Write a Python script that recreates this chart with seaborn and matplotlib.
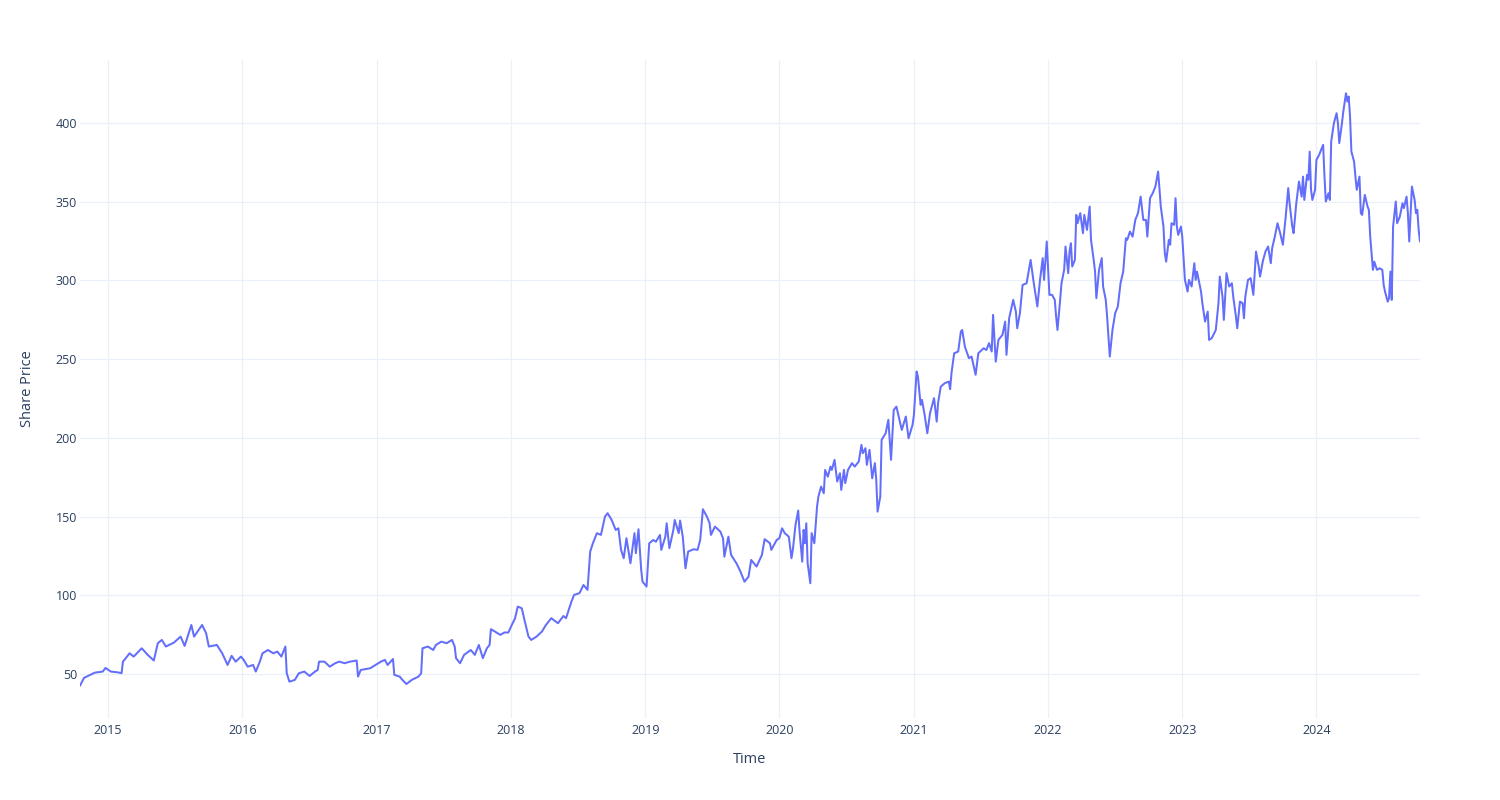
import numpy as np
import pandas as pd
import matplotlib
matplotlib.use("Agg")
import matplotlib.pyplot as plt
import matplotlib.dates as mdates
import seaborn as sns

# ---- data (time as decimal years) ----
time_points = [
    2014.79, 2014.82, 2014.90, 2014.96, 2014.98, 2015.02, 2015.07, 2015.10, 2015.11, 2015.16,
    2015.19, 2015.25, 2015.29, 2015.34, 2015.37, 2015.40, 2015.43, 2015.49, 2015.54, 2015.57,
    2015.60, 2015.62, 2015.64, 2015.70, 2015.73, 2015.75, 2015.81, 2015.85, 2015.89, 2015.92,
    2015.95, 2015.99,
    2016.01, 2016.04, 2016.08, 2016.10, 2016.13, 2016.15, 2016.19, 2016.23, 2016.26, 2016.29,
    2016.32, 2016.33, 2016.35, 2016.39, 2016.42, 2016.46, 2016.50, 2016.54, 2016.56, 2016.57,
    2016.61, 2016.65, 2016.69, 2016.72, 2016.76, 2016.80, 2016.85, 2016.86, 2016.88, 2016.95,
    2017.01,
    2017.03, 2017.06, 2017.08, 2017.12, 2017.13, 2017.17, 2017.19, 2017.22, 2017.26, 2017.31,
    2017.33, 2017.34, 2017.38, 2017.42, 2017.44, 2017.48, 2017.52, 2017.56, 2017.58, 2017.59,
    2017.62, 2017.65, 2017.70, 2017.73, 2017.76, 2017.79, 2017.82, 2017.84, 2017.85, 2017.88,
    2017.92, 2017.95, 2017.98, 2018.00, 2018.03,
    2018.05, 2018.08, 2018.10, 2018.13, 2018.15, 2018.19, 2018.23, 2018.26, 2018.30, 2018.35,
    2018.39, 2018.41, 2018.45, 2018.47, 2018.51, 2018.54, 2018.57, 2018.59, 2018.61, 2018.64,
    2018.67, 2018.70, 2018.72, 2018.75, 2018.78, 2018.80, 2018.82, 2018.84, 2018.86, 2018.89,
    2018.92, 2018.93, 2018.95, 2018.97, 2018.98, 2019.01, 2019.03,
    2019.06, 2019.08, 2019.11, 2019.12, 2019.15, 2019.16, 2019.18, 2019.21, 2019.22, 2019.25,
    2019.26, 2019.28, 2019.30, 2019.32, 2019.36, 2019.39, 2019.41, 2019.43, 2019.46, 2019.48,
    2019.49, 2019.52, 2019.56, 2019.58, 2019.59, 2019.62, 2019.64, 2019.68, 2019.71, 2019.74,
    2019.77, 2019.79, 2019.83, 2019.87, 2019.89, 2019.93, 2019.94, 2019.98, 2020.00, 2020.02,
    2020.04, 2020.07, 2020.09, 2020.10, 2020.12, 2020.14, 2020.15, 2020.17, 2020.18, 2020.19,
    2020.20, 2020.21, 2020.23, 2020.24, 2020.26, 2020.28, 2020.29, 2020.31, 2020.33, 2020.34,
    2020.36, 2020.38, 2020.39, 2020.41, 2020.43, 2020.45, 2020.46, 2020.48, 2020.49, 2020.51,
    2020.54, 2020.56, 2020.59, 2020.61, 2020.62, 2020.64, 2020.65, 2020.67, 2020.69, 2020.71,
    2020.72, 2020.73, 2020.75, 2020.76, 2020.79, 2020.81, 2020.83, 2020.85, 2020.87, 2020.91,
    2020.94, 2020.96,
    2020.99, 2021.00, 2021.02, 2021.03, 2021.05, 2021.06, 2021.08, 2021.10, 2021.12, 2021.15,
    2021.17, 2021.18, 2021.20, 2021.23, 2021.26, 2021.27, 2021.28, 2021.30, 2021.33, 2021.35,
    2021.36, 2021.38, 2021.41, 2021.43, 2021.46, 2021.48, 2021.52, 2021.54, 2021.56, 2021.58,
    2021.59, 2021.61, 2021.63, 2021.66, 2021.68, 2021.69, 2021.71, 2021.74, 2021.76, 2021.77,
    2021.79, 2021.81, 2021.84, 2021.87, 2021.89, 2021.92, 2021.94, 2021.96, 2021.97, 2021.99,
    2022.01,
    2022.03, 2022.05, 2022.06, 2022.07, 2022.09, 2022.10, 2022.12, 2022.13, 2022.15, 2022.16,
    2022.17, 2022.18, 2022.20, 2022.21, 2022.22, 2022.24, 2022.26, 2022.27, 2022.29, 2022.31,
    2022.32, 2022.34, 2022.35, 2022.36, 2022.38, 2022.40, 2022.41, 2022.43, 2022.44, 2022.46,
    2022.48, 2022.50, 2022.52, 2022.54, 2022.56, 2022.58, 2022.59, 2022.61, 2022.63, 2022.65,
    2022.67, 2022.69, 2022.71, 2022.73, 2022.74, 2022.76, 2022.78, 2022.80, 2022.82, 2022.83,
    2022.84, 2022.86, 2022.87, 2022.88, 2022.90, 2022.91, 2022.92, 2022.94, 2022.95, 2022.96,
    2022.97, 2022.99, 2023.00,
    2023.02, 2023.04, 2023.05, 2023.07, 2023.09, 2023.10, 2023.11, 2023.14, 2023.15, 2023.17,
    2023.19, 2023.20, 2023.22, 2023.25, 2023.27, 2023.28, 2023.30, 2023.31, 2023.33, 2023.35,
    2023.37, 2023.38, 2023.40, 2023.41, 2023.43, 2023.45, 2023.46, 2023.47, 2023.49, 2023.51,
    2023.53, 2023.55, 2023.57, 2023.58, 2023.60, 2023.62, 2023.64, 2023.66, 2023.67, 2023.69,
    2023.71, 2023.73, 2023.75, 2023.77, 2023.79, 2023.80, 2023.82, 2023.83, 2023.85, 2023.87,
    2023.89, 2023.90, 2023.91, 2023.93, 2023.94, 2023.95, 2023.96, 2023.97, 2023.99, 2024.00,
    2024.02, 2024.05, 2024.06, 2024.07, 2024.09, 2024.10, 2024.11, 2024.13, 2024.15, 2024.16,
    2024.17, 2024.19, 2024.20, 2024.22, 2024.23, 2024.24, 2024.25, 2024.26, 2024.28, 2024.29,
    2024.30, 2024.32, 2024.33, 2024.34, 2024.36, 2024.38, 2024.39, 2024.40, 2024.42, 2024.43,
    2024.45, 2024.47, 2024.49, 2024.50, 2024.51, 2024.53, 2024.54, 2024.55, 2024.56, 2024.57,
    2024.59, 2024.60, 2024.62, 2024.64, 2024.65, 2024.67, 2024.68, 2024.69, 2024.71, 2024.73,
    2024.74, 2024.75, 2024.76, 2024.77,
]

share_price = [
    42.5, 47.5, 50.8, 51.5, 53.8, 51.5, 51.0, 50.5, 57.8, 63.1,
    61.0, 66.3, 62.5, 58.5, 69.5, 71.6, 67.4, 69.9, 73.7, 67.8,
    75.9, 81.1, 73.7, 81.1, 75.9, 67.4, 68.4, 63.1, 55.7, 61.5,
    57.8, 61.0,
    58.9, 54.6, 55.7, 51.5, 57.8, 63.1, 65.2, 63.1, 64.2, 61.0,
    67.4, 50.4, 45.1, 46.2, 50.4, 51.5, 48.7, 51.5, 52.5, 57.8,
    57.8, 54.6, 56.8, 57.8, 56.8, 57.8, 58.5, 48.3, 52.5, 53.6,
    56.8,
    57.8, 58.9, 55.7, 59.5, 49.4, 48.3, 46.2, 43.6, 46.2, 48.3,
    50.4, 66.3, 67.4, 65.2, 68.4, 70.5, 69.5, 71.6, 67.4, 60.0,
    56.8, 62.1, 65.2, 62.1, 68.4, 60.0, 66.3, 68.4, 78.4, 76.9,
    74.8, 76.3, 76.3, 80.1, 85.4,
    92.8, 91.7, 84.3, 73.7, 71.6, 73.7, 76.9, 81.1, 85.4, 82.2,
    86.8, 85.4, 95.9, 100.2, 101.3, 106.5, 103.4, 127.7, 133.0, 139.4,
    138.3, 149.9, 152.1, 147.8, 141.5, 142.5, 128.8, 123.5, 136.2, 120.3,
    139.4, 126.7, 141.9, 116.1, 108.6, 105.5, 133.0,
    135.1, 134.0, 138.3, 128.8, 137.2, 145.7, 129.9, 141.5, 147.8, 139.4,
    147.4, 137.2, 117.1, 127.7, 129.2, 128.8, 135.1, 154.6, 149.9, 145.7,
    138.3, 143.6, 140.4, 136.2, 124.5, 137.2, 125.6, 120.3, 115.0, 108.6,
    111.8, 122.4, 118.2, 125.6, 135.6, 133.0, 128.8, 135.1, 136.2, 142.5,
    139.4, 137.2, 123.5, 128.8, 144.7, 153.8, 140.4, 121.3, 141.5, 133.0,
    145.7, 120.3, 107.6, 139.4, 133.0, 156.3, 162.6, 169.0, 164.8, 179.6,
    175.3, 181.7, 179.6, 186.0, 172.2, 177.5, 166.9, 179.6, 171.2, 179.6,
    183.9, 181.7, 184.9, 195.5, 190.2, 193.4, 182.8, 192.3, 174.3, 183.9,
    173.3, 153.1, 162.6, 198.7, 202.9, 211.4, 186.0, 217.7, 219.8, 205.0,
    213.5, 199.7,
    208.2, 214.5, 242.1, 238.9, 220.9, 224.1, 214.5, 202.9, 215.6, 225.2,
    210.3, 222.0, 232.5, 234.7, 235.7, 230.9, 241.0, 253.7, 254.8, 267.5,
    268.5, 257.9, 250.6, 251.6, 240.0, 253.7, 256.9, 255.8, 260.1, 254.8,
    278.1, 248.4, 262.2, 265.4, 273.8, 252.7, 276.0, 287.6, 280.2, 269.6,
    279.1, 297.1, 298.2, 313.0, 300.3, 283.4, 300.3, 314.1, 300.3, 324.7,
    290.8,
    290.8, 287.6, 277.0, 268.5, 287.6, 298.2, 306.7, 321.5, 304.6, 318.3,
    323.6, 308.8, 313.0, 341.6, 336.3, 342.7, 330.0, 341.6, 332.1, 346.9,
    325.7, 313.0, 305.6, 288.7, 306.7, 314.1, 296.1, 287.6, 277.0, 251.6,
    268.5, 279.1, 283.4, 298.2, 305.6, 326.8, 325.7, 331.0, 327.8, 338.4,
    342.7, 353.2, 338.4, 338.4, 327.8, 352.2, 355.4, 359.6, 369.1, 358.6,
    346.9, 334.2, 317.3, 311.9, 325.7, 322.6, 336.3, 335.3, 352.2, 334.2,
    328.9, 334.2, 327.8,
    300.3, 292.9, 300.3, 296.1, 310.9, 300.3, 305.6, 292.9, 285.5, 273.8,
    280.2, 262.2, 263.3, 268.5, 285.5, 302.4, 289.7, 274.9, 304.6, 296.1,
    298.2, 289.7, 277.0, 269.6, 286.5, 285.5, 276.0, 289.7, 300.3, 301.4,
    290.8, 318.3, 308.8, 302.4, 311.9, 318.3, 321.5, 310.9, 320.4, 327.8,
    336.3, 330.0, 322.6, 339.5, 358.6, 349.0, 334.2, 330.0, 349.0, 362.8,
    353.2, 365.9, 351.1, 367.0, 363.9, 381.8, 357.5, 351.1, 357.5, 376.5,
    379.7, 386.1, 365.9, 350.1, 355.4, 351.1, 388.2, 399.9, 406.2, 399.9,
    387.2, 399.9, 407.3, 418.9, 413.6, 416.8, 404.1, 381.8, 375.5, 365.9,
    357.5, 365.9, 342.7, 341.6, 354.3, 346.9, 344.8, 327.8, 306.7, 311.9,
    306.7, 307.7, 306.7, 297.1, 292.9, 286.5, 288.7, 305.6, 287.6, 334.2,
    350.1, 336.3, 340.5, 349.0, 345.9, 353.2, 342.7, 324.7, 359.6, 351.1,
    342.7, 344.8, 332.1, 324.7,
]

x_tick_years = [2015, 2016, 2017, 2018, 2019, 2020, 2021, 2022, 2023, 2024]
y_ticks = [50, 100, 150, 200, 250, 300, 350, 400]


def decimal_year_to_timestamp(y):
    year = int(np.floor(y))
    start = pd.Timestamp(year=year, month=1, day=1)
    end = pd.Timestamp(year=year + 1, month=1, day=1)
    return start + (end - start) * (y - year)


df = pd.DataFrame({
    "Time": [decimal_year_to_timestamp(t) for t in time_points],
    "Share Price": share_price,
})

sns.set_theme(style="white")
plt.rcParams["font.family"] = ["Open Sans", "DejaVu Sans"]

TEXT = "#2a3f5f"
GRID = "#EBF0F8"
LINE = "#636EFA"

fig = plt.figure(figsize=(15, 8), dpi=100)
ax = fig.add_axes([80 / 1500, (800 - 718) / 800, 1340 / 1500, 658 / 800])

sns.lineplot(data=df, x="Time", y="Share Price", ax=ax, color=LINE, linewidth=1.45,
             estimator=None, sort=False)

ax.set_xlim(df["Time"].min(), df["Time"].max())
ax.set_ylim(22, 440)

ax.set_xticks([pd.Timestamp(year=y, month=1, day=1) for y in x_tick_years])
ax.xaxis.set_major_formatter(mdates.DateFormatter("%Y"))
ax.set_yticks(y_ticks)

ax.grid(True, color=GRID, linewidth=0.9)
ax.set_axisbelow(True)
for s in ax.spines.values():
    s.set_visible(False)

ax.tick_params(axis="both", length=0, colors=TEXT, labelsize=9)
ax.tick_params(axis="x", pad=4)
ax.tick_params(axis="y", pad=2)

ax.set_xlabel("Time", fontsize=10.5, color=TEXT, labelpad=11)
ax.set_ylabel("Share Price", fontsize=10.5, color=TEXT, labelpad=15)

fig.savefig("out.png", dpi=100, facecolor="white")
